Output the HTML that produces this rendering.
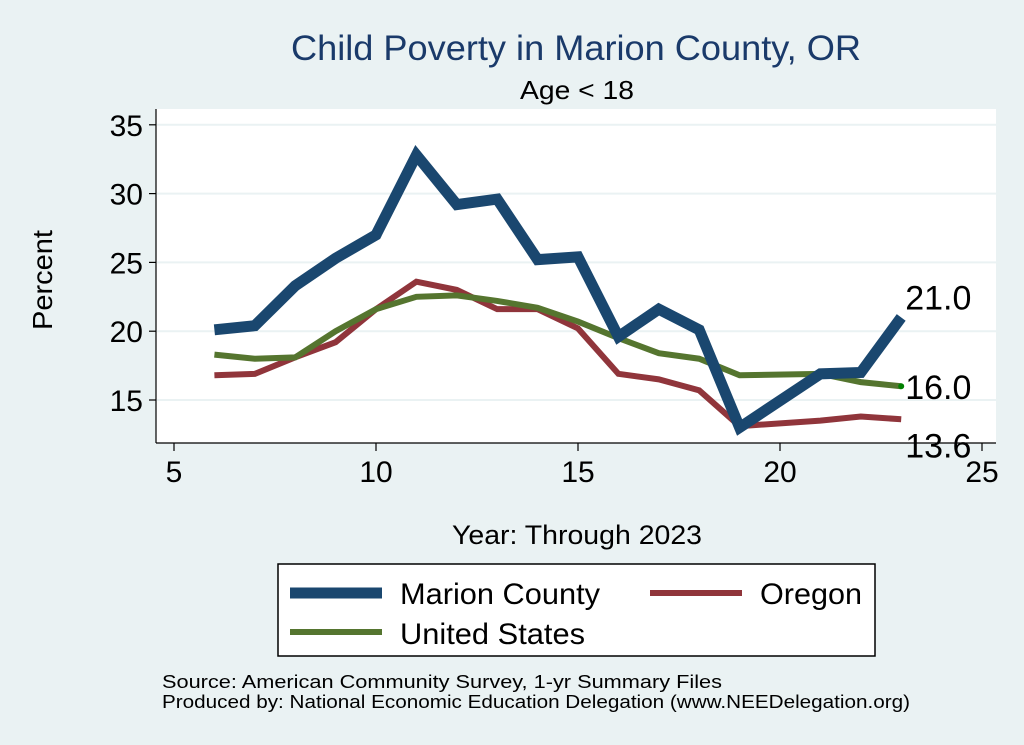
<!DOCTYPE html>
<html><head><meta charset="utf-8"><style>
html,body{margin:0;padding:0;background:#eaf2f3;}
svg{display:block;font-family:"Liberation Sans",sans-serif;}
</style></head><body>
<svg id="chart" width="1024" height="745">
<rect x="0" y="0" width="1024" height="745" fill="#eaf2f3"/>
<rect x="156" y="109" width="840" height="334" fill="#ffffff"/>
<text x="576" y="60" font-size="35" fill="#1a3a6a" text-anchor="middle" textLength="570" lengthAdjust="spacingAndGlyphs">Child Poverty in Marion County, OR</text>
<text x="577" y="99" font-size="26" fill="#000" text-anchor="middle" textLength="114" lengthAdjust="spacingAndGlyphs">Age &lt; 18</text>
<g id="grid"></g>
<g id="axes"></g>
<g id="series"></g>
<text x="52" y="280" font-size="28" text-anchor="middle" transform="rotate(-90 52 280)" textLength="100" lengthAdjust="spacingAndGlyphs">Percent</text>
<text x="577" y="544" font-size="27" text-anchor="middle" textLength="250" lengthAdjust="spacingAndGlyphs">Year: Through 2023</text>
<g>
<rect x="278" y="564" width="597" height="92" fill="#fff" stroke="#000" stroke-width="1.5"/>
<line x1="290" y1="593" x2="382" y2="593" stroke="#1a476f" stroke-width="11"/>
<text x="400" y="604" font-size="30" textLength="200" lengthAdjust="spacingAndGlyphs">Marion County</text>
<line x1="650" y1="593" x2="742" y2="593" stroke="#90353b" stroke-width="6"/>
<text x="760" y="604" font-size="30" textLength="102" lengthAdjust="spacingAndGlyphs">Oregon</text>
<line x1="290" y1="632" x2="382" y2="632" stroke="#55752f" stroke-width="6"/>
<text x="400" y="644" font-size="30" textLength="185" lengthAdjust="spacingAndGlyphs">United States</text>
</g>
<text x="162" y="688" font-size="18" textLength="560" lengthAdjust="spacingAndGlyphs">Source: American Community Survey, 1-yr Summary Files</text>
<text x="162" y="708" font-size="18" textLength="748" lengthAdjust="spacingAndGlyphs">Produced by: National Economic Education Delegation (www.NEEDelegation.org)</text>
</svg>
<script>
const years=[6,7,8,9,10,11,12,13,14,15,16,17,18,19,21,22,23];
const marion=[20.1,20.4,23.3,25.3,27.0,32.8,29.2,29.6,25.2,25.4,19.6,21.6,20.1,13.0,16.9,17.0,21.0];
const oregon=[16.8,16.9,18.1,19.2,21.6,23.6,23.0,21.6,21.6,20.2,16.9,16.5,15.7,13.1,13.5,13.8,13.6];
const us=[18.3,18.0,18.1,20.0,21.6,22.5,22.6,22.2,21.7,20.7,19.5,18.4,18.0,16.8,16.9,16.3,16.0];
const xTicks=[5,10,15,20,25];
const yTicks=[15,20,25,30,35];
const NS="http://www.w3.org/2000/svg";
function X(v){return 174+(v-5)*40.4;}
function Y(v){return 400-(v-15)*13.76;}
function mk(tag,attrs,parent){const e=document.createElementNS(NS,tag);for(const k in attrs)e.setAttribute(k,attrs[k]);parent.appendChild(e);return e;}
const grid=document.getElementById('grid'),axes=document.getElementById('axes'),ser=document.getElementById('series');
mk('line',{x1:156,y1:109,x2:156,y2:443,stroke:'#000','stroke-width':1.2},axes);
mk('line',{x1:156,y1:443,x2:996,y2:443,stroke:'#000','stroke-width':1.2},axes);
yTicks.forEach(t=>{
 const g=mk('line',{x1:157,y1:Y(t),x2:996,y2:Y(t),stroke:'#eaf2f3','stroke-width':2},grid);
 
 
 mk('line',{x1:149,y1:Y(t),x2:156,y2:Y(t),stroke:'#000','stroke-width':1.2},axes);
 const tx=mk('text',{x:143,y:Y(t)+11,'font-size':30,'text-anchor':'end'},axes);tx.textContent=t;
 
 
});
xTicks.forEach(t=>{
 mk('line',{x1:X(t),y1:443,x2:X(t),y2:451,stroke:'#000','stroke-width':1.2},axes);
 const tx=mk('text',{x:X(t),y:482,'font-size':30,'text-anchor':'middle'},axes);tx.textContent=t;
 
 
});
function line(vals,color,w,name){
 const p=mk('polyline',{points:years.map((y,i)=>X(y)+','+Y(vals[i])).join(' '),fill:'none',stroke:color,'stroke-width':w,'stroke-linejoin':'miter'},ser);
 
 
}
line(oregon,'#90353b',6,'line-oregon');
line(us,'#55752f',6,'line-united-states');
line(marion,'#1a476f',11,'line-marion-county');
const n=years.length-1;
mk('circle',{cx:X(years[n]),cy:Y(us[n]),r:3,fill:'#008000'},ser);
function lab(v,yoff,name){const t=mk('text',{x:X(years[n])+4,y:Y(v)+yoff,'font-size':34},ser);t.textContent=v.toFixed(1);
 
 }
lab(marion[n],-8,'label-marion-last');
lab(us[n],13,'label-us-last');
lab(oregon[n],38,'label-oregon-last');
</script>
</body></html>
